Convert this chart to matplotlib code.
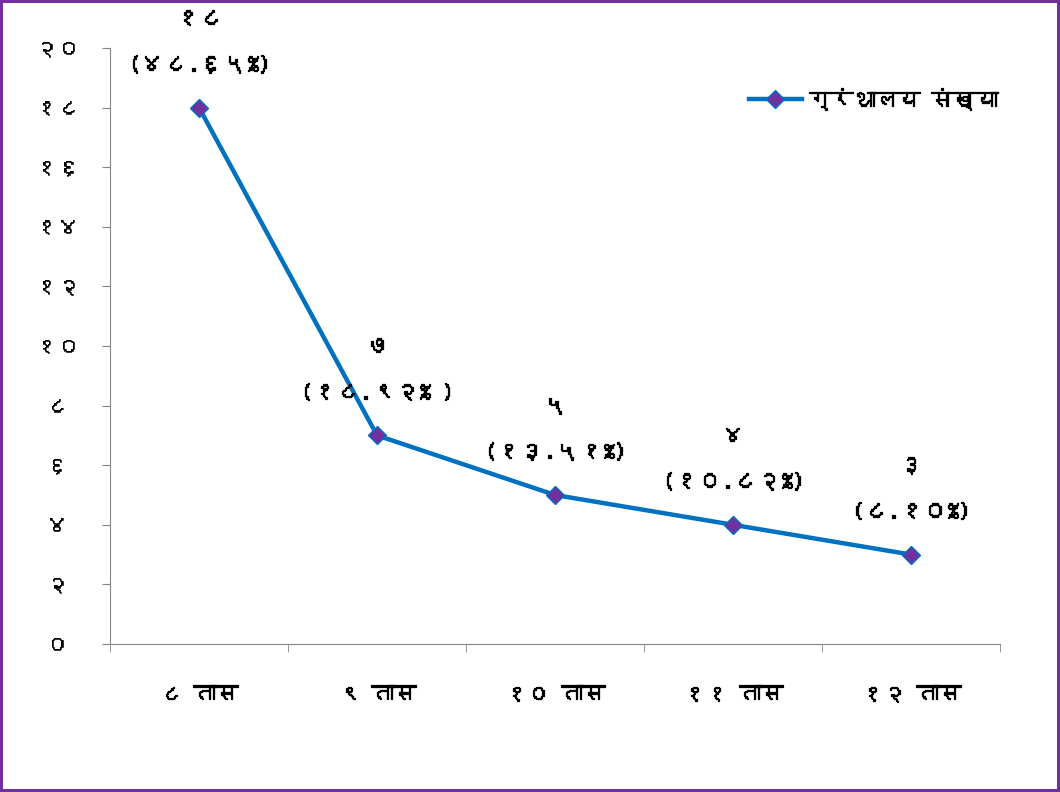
import matplotlib
matplotlib.use("Agg")
import matplotlib.pyplot as plt
from matplotlib import font_manager
from matplotlib.ft2font import FT2Font
from matplotlib.lines import Line2D
import matplotlib.patheffects as pe

# data
categories = ["८ तास", "९ तास", "१० तास", "११ तास", "१२ तास"]
values = [18, 7, 5, 4, 3]
value_labels = ["१८", "७", "५", "४", "३"]
pct_labels = ["(४८.६५%)", "(१८.९२% )", "(१३.५१%)", "(१०.८२%)", "(८.१०%)"]
y_ticks = [0, 2, 4, 6, 8, 10, 12, 14, 16, 18, 20]
y_tick_labels = ["०", "२", "४", "६", "८", "१०", "१२", "१४", "१६", "१८", "२०"]
legend_label = "ग्रंथालय संख्या"


def findDevanagari():
    # first installed family that has Devanagari glyphs
    for f in font_manager.fontManager.ttflist:
        try:
            cmap = FT2Font(f.fname).get_charmap()
        except Exception:
            continue
        if 0x0966 in cmap and 0x0924 in cmap:
            return [f.name]
    return []


plt.rcParams['font.family'] = findDevanagari() + ["DejaVu Sans"]

blue = "#0070C0"
purple = "#7030A0"
bold = [pe.withStroke(linewidth=0.9, foreground="black")]
semibold = [pe.withStroke(linewidth=0.4, foreground="black")]

fig = plt.figure(figsize=(10.6, 7.92), dpi=100)
fig.patch.set_edgecolor(purple)
fig.patch.set_linewidth(3)

ax = fig.add_axes([0.1038, 0.1869, 0.8396, 0.7525])
x = list(range(len(categories)))
ax.plot(x, values, color=blue, lw=3.2, marker="D", ms=9,
        markerfacecolor=purple, markeredgecolor=blue, markeredgewidth=1)

for xi, v, vl, pl in zip(x, values, value_labels, pct_labels):
    ax.annotate(vl, (xi, v), xytext=(0, 64), textcoords="offset points",
                ha="center", va="center", fontsize=17, fontweight="bold",
                path_effects=bold)
    ax.annotate(pl, (xi, v), xytext=(0, 31), textcoords="offset points",
                ha="center", va="center", fontsize=17, fontweight="bold",
                path_effects=bold)

ax.set_xlim(-0.5, len(categories) - 0.5)
ax.set_ylim(0, 20)
ax.set_yticks(y_ticks)
ax.set_yticklabels(y_tick_labels, fontsize=16)
for lab in ax.get_yticklabels():
    lab.set_horizontalalignment("center")
    lab.set_path_effects(semibold)
ax.set_xticks(x)
ax.set_xticklabels(categories, fontsize=16, fontweight="bold")
for lab in ax.get_xticklabels():
    lab.set_path_effects(bold)
ax.tick_params(axis="x", length=0, pad=30)
ax.set_xticks([i - 0.5 for i in range(len(categories) + 1)], minor=True)
ax.tick_params(axis="x", which="minor", length=6, color="#868686", direction="out")
ax.tick_params(axis="y", length=6, color="#868686", direction="out", pad=32)

for s in ["top", "right"]:
    ax.spines[s].set_visible(False)
ax.spines["left"].set_color("#868686")
ax.spines["bottom"].set_color("#868686")

handle = Line2D([], [], color=blue, lw=3.2, marker="D", ms=9,
                markerfacecolor=purple, markeredgecolor=blue)
leg = ax.legend([handle], [legend_label], loc="upper right",
                bbox_to_anchor=(1.02, 0.965), frameon=False,
                prop={"size": 16, "weight": "bold"}, handlelength=2.4,
                handletextpad=0.3)
for t in leg.get_texts():
    t.set_path_effects(bold)

fig.savefig("out.png", dpi=100, edgecolor=purple)
